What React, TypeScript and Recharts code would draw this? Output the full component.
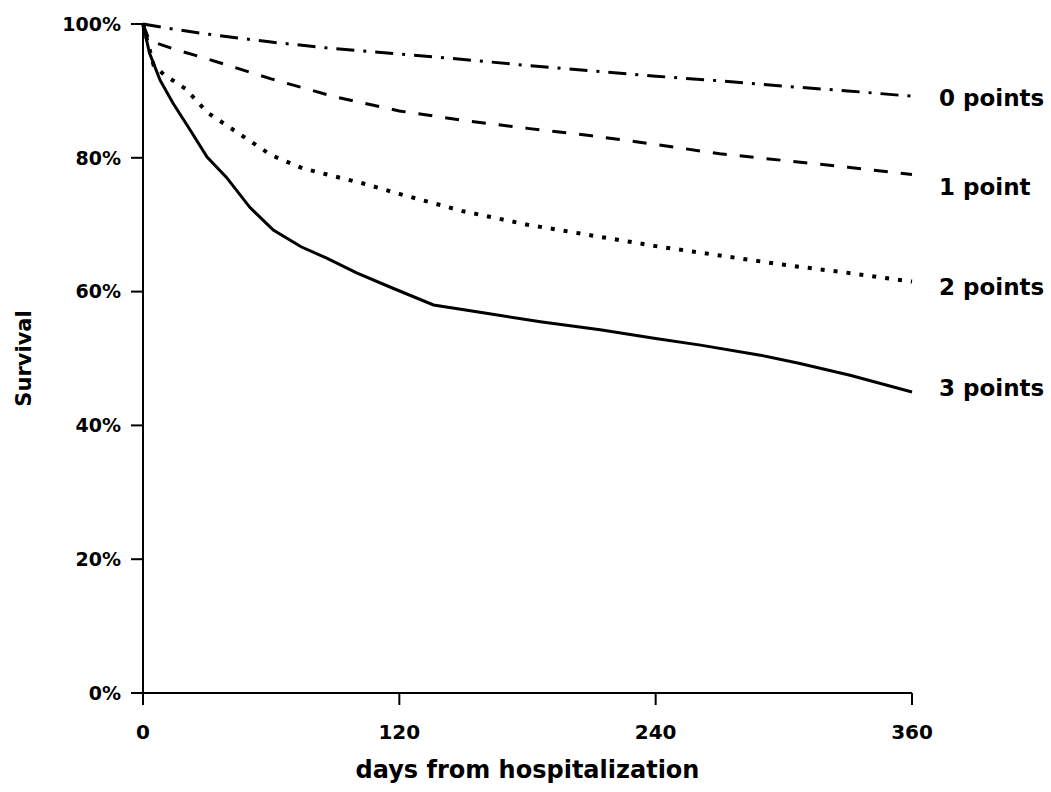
import { LineChart, Line, XAxis, YAxis, Label } from "recharts";

// days / survival (%)
const days0 = [0, 15, 30, 60, 90, 120, 150, 180, 210, 240, 270, 300, 330, 360];
const surv0 = [100, 99.2, 98.5, 97.3, 96.3, 95.5, 94.7, 93.8, 93.0, 92.2, 91.5, 90.7, 90.0, 89.2];

const days1 = [0, 3, 15, 30, 60, 90, 120, 150, 180, 210, 240, 270, 300, 330, 360];
const surv1 = [100, 97.5, 96.2, 94.8, 91.8, 89.1, 87.0, 85.6, 84.4, 83.3, 82.0, 80.6, 79.6, 78.6, 77.5];

const days2 = [0, 5, 10, 20, 30, 45, 60, 75, 90, 105, 120, 150, 180, 210, 240, 270, 300, 330, 360];
const surv2 = [100, 93.8, 92.4, 90.3, 86.8, 83.6, 80.4, 78.4, 77.2, 76.0, 74.6, 72.0, 70.0, 68.4, 66.8, 65.4, 64.0, 62.8, 61.5];

const days3 = [0, 3, 8, 14, 22, 30, 39, 50, 61, 74, 86, 100, 117, 136, 160, 186, 214, 240, 261, 289, 307, 331, 360];
const surv3 = [100, 95.7, 91.6, 88.2, 84.2, 80.1, 77.1, 72.6, 69.2, 66.7, 65.0, 62.8, 60.5, 58.0, 56.8, 55.5, 54.3, 53.0, 52.0, 50.5, 49.3, 47.5, 45.0];

const seriesNames = ["0 points", "1 point", "2 points", "3 points"];
const xTicks = [0, 120, 240, 360];
const yTicks = [0, 20, 40, 60, 80, 100];

const toRows = (days: number[], surv: number[]) =>
  days.map((d, i) => ({ day: d, surv: surv[i] }));

const series = [
  { name: seriesNames[0], data: toRows(days0, surv0), dash: "18 9 3 9", width: 3, dy: 2 },
  { name: seriesNames[1], data: toRows(days1, surv1), dash: "14 13", width: 3, dy: 12 },
  { name: seriesNames[2], data: toRows(days2, surv2), dash: "4 9", width: 4, dy: 5 },
  { name: seriesNames[3], data: toRows(days3, surv3), dash: undefined, width: 3, dy: -4 },
];

const font = "'DejaVu Sans', sans-serif";

const endLabel = (text: string, n: number, dy: number) => (props: any) => {
  if (props.index !== n - 1) return <g />;
  return (
    <text
      x={props.x + 27}
      y={props.y + dy}
      dy="0.35em"
      fontFamily={font}
      fontWeight="bold"
      fontSize={23}
      fill="#000"
    >
      {text}
    </text>
  );
};

export default function App() {
  return (
    <div style={{ position: "absolute", left: 0, top: 0, background: "#fff" }}>
      <LineChart
        width={1051}
        height={792}
        margin={{ top: 24, right: 139, bottom: 59, left: 83 }}
      >
        <XAxis
          type="number"
          dataKey="day"
          domain={[0, 360]}
          ticks={xTicks}
          height={40}
          stroke="#000"
          strokeWidth={2}
          tickSize={12}
          tickMargin={20}
          tick={{ fill: "#000", fontFamily: font, fontWeight: "bold", fontSize: 20 }}
          allowDuplicatedCategory={false}
        >
          <Label
            value="days from hospitalization"
            position="bottom"
            offset={28}
            style={{ fill: "#000", fontFamily: font, fontWeight: "bold", fontSize: 24 }}
          />
        </XAxis>
        <YAxis
          type="number"
          domain={[0, 100]}
          ticks={yTicks}
          width={60}
          stroke="#000"
          strokeWidth={2}
          tickSize={12}
          tickMargin={10}
          tickFormatter={(v: number) => `${v}%`}
          tick={{ fill: "#000", fontFamily: font, fontWeight: "bold", fontSize: 19 }}
        >
          <Label
            value="Survival"
            angle={-90}
            position="left"
            offset={59}
            style={{ fill: "#000", fontFamily: font, fontWeight: "bold", fontSize: 21, textAnchor: "middle" }}
          />
        </YAxis>
        {series.map((s) => (
          <Line
            key={s.name}
            data={s.data}
            dataKey="surv"
            type="linear"
            stroke="#000"
            strokeWidth={s.width}
            strokeDasharray={s.dash}
            dot={false}
            activeDot={false}
            isAnimationActive={false}
            label={endLabel(s.name, s.data.length, s.dy)}
          />
        ))}
      </LineChart>
    </div>
  );
}
